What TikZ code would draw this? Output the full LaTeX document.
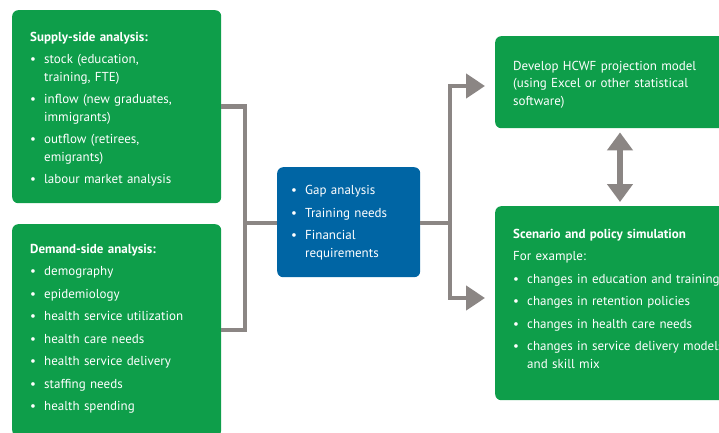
\documentclass[tikz,border=0pt]{standalone}
\usepackage{fontspec}
\setmainfont{PT Sans}
\usetikzlibrary{arrows.meta}
\definecolor{boxgreen}{RGB}{14,158,74}
\definecolor{boxblue}{RGB}{0,101,164}
\definecolor{linegray}{RGB}{139,134,132}
\newcommand{\bitem}[1]{\par\hangindent=14pt\hangafter=1\noindent\makebox[14pt][l]{\textbullet}#1\par}
\tikzset{
  gbox/.style={fill=boxgreen, draw=none, rounded corners=6pt, anchor=north west, inner sep=0pt},
  bbox/.style={fill=boxblue, draw=none, rounded corners=6pt, anchor=north west, inner sep=0pt},
  txt/.style={anchor=north west, inner sep=0pt, text=white, align=left, text width=#1,
    font=\fontsize{13}{17.5}\selectfont},
  conn/.style={draw=linegray, line width=4.5pt},
  arr/.style={conn, -{Triangle[length=19pt,width=24pt]}, shorten >=10pt},
  dblarr/.style={draw=linegray, line width=6pt, {Triangle[length=18pt,width=25pt]}-{Triangle[length=18pt,width=25pt]}, shorten <=4pt, shorten >=4pt}
}
\begin{document}
\begin{tikzpicture}[x=1pt,y=-1pt]
\useasboundingbox (0,0) rectangle (719,432);
\clip (0,0) rectangle (719,432);
% boxes
\node[gbox, minimum width=209pt, minimum height=193pt] (supply) at (12,10) {};
\node[gbox, minimum width=209pt, minimum height=212pt] (demand) at (12,224) {};
\node[bbox, minimum width=143pt, minimum height=110pt] (gap) at (277,167) {};
\node[gbox, minimum width=240pt, minimum height=92pt] (proj) at (495,36) {};
\node[gbox, minimum width=240pt, minimum height=194pt] (scen) at (495,206) {};
% texts
\node[txt=200pt] (supplytxt) at (30,32) {\setlength\parskip{5pt}%
  \textbf{Supply-side analysis:}\par
  \bitem{stock (education,\newline training, FTE)}
  \bitem{inflow (new graduates,\newline immigrants)}
  \bitem{outflow (retirees,\newline emigrants)}
  \bitem{labour market analysis}};
\node[txt=200pt] (demandtxt) at (30,244) {\setlength\parskip{5pt}%
  \textbf{Demand-side analysis:}\par
  \bitem{demography}
  \bitem{epidemiology}
  \bitem{health service utilization}
  \bitem{health care needs}
  \bitem{health service delivery}
  \bitem{staffing needs}
  \bitem{health spending}};
\node[txt=130pt] (gaptxt) at (291,172) {\setlength\parskip{5pt}%
  \bitem{Gap analysis}
  \bitem{Training needs}
  \bitem{Financial\newline requirements}};
\node[txt=220pt] (projtxt) at (513,61) {Develop HCWF projection model\\(using Excel or other statistical\\software)};
\node[txt=220pt] (scentxt) at (513,229) {\setlength\parskip{5pt}%
  \textbf{Scenario and policy simulation}\par
  For example:\par
  \bitem{changes in education and training}
  \bitem{changes in retention policies}
  \bitem{changes in health care needs}
  \bitem{changes in service delivery models\newline and skill mix}};
% connectors
\coordinate (jl) at (245,223);
\coordinate (jr) at (450,223);
\coordinate (ta) at (0,86);
\coordinate (ba) at (0,298);
\coordinate (dax) at (620,0);
\draw[conn] (supply.east) -| (jl);
\draw[conn] (demand.east) -| (jl);
\draw[conn] (jl) -- (gap.west |- jl);
\draw[conn] (gap.east |- jr) -- (jr);
\draw[arr] (jr) |- (proj.west |- ta);
\draw[arr] (jr) |- (scen.west |- ba);
\draw[dblarr] (proj.south -| dax) -- (scen.north -| dax);
\end{tikzpicture}
\end{document}
